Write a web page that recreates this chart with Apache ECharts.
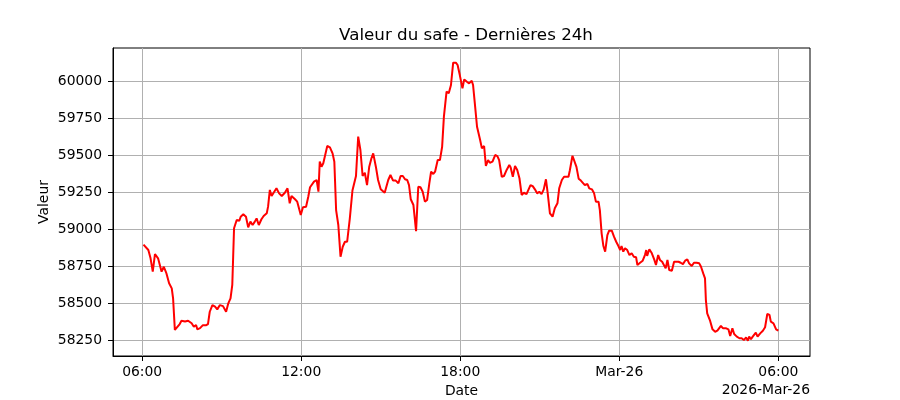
<!DOCTYPE html>
<html>
<head>
<meta charset="utf-8">
<script src="https://cdn.jsdelivr.net/npm/echarts@6/dist/echarts.min.js"></script>
<style>
  html, body { margin: 0; padding: 0; background: #fff; }
  #chart { width: 900px; height: 400px; }
</style>
</head>
<body>
<div id="chart"></div>
<script>
// clock times of the samples, 25 -> 26 March 2026 (day rolls over after 23:58)
var times = [
  "06:03","06:14","06:19","06:24","06:29","06:36","06:44","06:49","06:55","07:01",
  "07:07","07:10","07:14","07:18","07:25","07:29","07:37","07:44","07:52","07:57",
  "08:02","08:05","08:11","08:17","08:24","08:29","08:33","08:39","08:45","08:50",
  "08:56","09:03","09:10","09:15","09:20","09:24","09:26","09:28","09:34","09:40",
  "09:43","09:49","09:55","10:00","10:05","10:10","10:15","10:19","10:24","10:30",
  "10:35","10:42","10:45","10:49","10:53","10:57","11:04","11:10","11:16","11:23",
  "11:29","11:34","11:38","11:46","11:51","11:56","11:59","12:04","12:11","12:16",
  "12:20","12:24","12:29","12:35","12:39","12:42","12:46","12:50","12:54","12:59",
  "13:05","13:11","13:15","13:19","13:24","13:29","13:34","13:39","13:44","13:50",
  "13:56","14:04","14:09","14:14","14:19","14:24","14:29","14:34","14:39","14:43",
  "14:49","14:54","15:00","15:04","15:09","15:13","15:17","15:22","15:28","15:34",
  "15:40","15:45","15:50","15:55","16:00","16:04","16:08","16:14","16:20","16:25",
  "16:30","16:35","16:40","16:45","16:50","16:54","16:59","17:03","17:09","17:14",
  "17:19","17:23","17:29","17:34","17:39","17:44","17:50","17:54","17:59","18:05",
  "18:09","18:15","18:20","18:26","18:29","18:33","18:38","18:45","18:49","18:54",
  "18:58","19:03","19:07","19:13","19:19","19:24","19:28","19:34","19:39","19:45",
  "19:51","19:54","19:59","20:04","20:09","20:14","20:19","20:24","20:30","20:34",
  "20:39","20:44","20:49","20:54","20:59","21:04","21:09","21:14","21:18","21:23",
  "21:29","21:34","21:40","21:44","21:50","21:55","21:59","22:05","22:08","22:14",
  "22:18","22:23","22:28","22:33","22:37","22:42","22:48","22:52","22:58","23:03",
  "23:07","23:13","23:16","23:20","23:24","23:28","23:33","23:37","23:43","23:48",
  "23:53","23:58","00:02","00:05","00:09","00:13","00:18","00:23","00:28","00:33",
  "00:38","00:41","00:47","00:53","00:58","01:01","01:03","01:08","01:13","01:19",
  "01:23","01:28","01:32","01:37","01:41","01:45","01:49","01:53","01:59","02:04",
  "02:08","02:14","02:19","02:24","02:29","02:34","02:38","02:44","02:49","02:55",
  "03:01","03:05","03:10","03:14","03:16","03:19","03:25","03:31","03:37","03:42",
  "03:46","03:50","03:55","04:02","04:07","04:11","04:16","04:20","04:26","04:32",
  "04:37","04:42","04:47","04:51","04:54","04:58","05:02","05:05","05:09","05:13",
  "05:19","05:25","05:30","05:35","05:40","05:43","05:49","05:55","06:00"
];

var values = [
  58895, 58858, 58802, 58712, 58831, 58802, 58712, 58745, 58700, 58633,
  58599, 58532, 58318, 58322, 58358, 58380, 58375, 58380, 58363, 58340,
  58351, 58322, 58330, 58349, 58349, 58358, 58441, 58486, 58475, 58457,
  58486, 58479, 58441, 58498, 58532, 58622, 58813, 59005, 59061, 59056,
  59083, 59099, 59083, 59011, 59050, 59027, 59050, 59072, 59027, 59066,
  59088, 59106, 59151, 59264, 59223, 59236, 59275, 59241, 59223, 59245,
  59275, 59174, 59223, 59201, 59185, 59128, 59094, 59147, 59151, 59218,
  59282, 59275, 59320, 59331, 59252, 59455, 59421, 59444, 59455, 59561,
  59552, 59511, 59455, 59128, 59027, 58813, 58880, 58914, 58914, 59070,
  59260, 59358, 59624, 59534, 59358, 59380, 59297, 59421, 59478, 59511,
  59421, 59331, 59268, 59275, 59245, 59252, 59331, 59365, 59327, 59327,
  59309, 59358, 59358, 59336, 59331, 59297, 59201, 59162, 58986, 59286,
  59282, 59252, 59185, 59196, 59309, 59387, 59372, 59387, 59466, 59466,
  59556, 59759, 59928, 59917, 59973, 60124, 60124, 60108, 60040, 59950,
  60011, 59995, 59984, 60002, 59973, 59849, 59691, 59601, 59545, 59561,
  59426, 59466, 59448, 59455, 59500, 59493, 59466, 59353, 59358, 59399,
  59432, 59417, 59353, 59426, 59399, 59343, 59230, 59245, 59236, 59241,
  59297, 59290, 59268, 59241, 59252, 59236, 59268, 59336, 59241, 59106,
  59083, 59140, 59174, 59275, 59331, 59353, 59349, 59353, 59395, 59495,
  59495, 59420, 59340, 59327, 59336, 59297, 59304, 59275, 59268, 59241,
  59185, 59185, 59128, 58971, 58885, 58847, 58959, 58989, 58989, 58948,
  58914, 58885, 58858, 58885, 58847, 58870, 58858, 58824, 58836, 58813,
  58809, 58757, 58772, 58786, 58824, 58858, 58818, 58863, 58840, 58795,
  58757, 58824, 58791, 58779, 58772, 58734, 58791, 58723, 58718, 58779,
  58768, 58779, 58772, 58763, 58786, 58795, 58768, 58750, 58772, 58772,
  58768, 58745, 58700, 58667, 58520, 58430, 58385, 58322, 58306, 58313,
  58318, 58345, 58329, 58329, 58322, 58277, 58329, 58291, 58273, 58262,
  58262, 58250, 58268, 58245, 58273, 58255, 58273, 58262, 58300, 58273,
  58295, 58313, 58336, 58426, 58419, 58374, 58363, 58322, 58313
];

var yTicks = [58250, 58500, 58750, 59000, 59250, 59500, 59750, 60000];
var xTickLabels = ["06:00", "12:00", "18:00", "Mar-26", "06:00"];
var xTickTimes = [
  new Date(2026, 2, 25, 6, 0).getTime(),
  new Date(2026, 2, 25, 12, 0).getTime(),
  new Date(2026, 2, 25, 18, 0).getTime(),
  new Date(2026, 2, 26, 0, 0).getTime(),
  new Date(2026, 2, 26, 6, 0).getTime()
];
var xMin = new Date(2026, 2, 25, 4, 54, 0).getTime();
var xMax = new Date(2026, 2, 26, 7, 11, 40).getTime();
var yMin = 58142, yMax = 60223;

// build [timestamp, value] pairs
var seriesData = [];
var day = 25, prev = "";
for (var i = 0; i < times.length; i++) {
  if (prev && times[i] < prev) day++;
  prev = times[i];
  var hm = times[i].split(":");
  seriesData.push([new Date(2026, 2, day, +hm[0], +hm[1]).getTime(), values[i]]);
}

var font = "DejaVu Sans";
var chart = echarts.init(document.getElementById("chart"));
var option = {
  animation: false,
  backgroundColor: "#fff",
  title: {
    text: "Valeur du safe - Dernières 24h",
    left: 461, top: 22, textAlign: "center",
    textStyle: { fontFamily: font, fontSize: 16.7, fontWeight: "normal", color: "#000" }
  },
  grid: {
    left: 113, right: 90, top: 48, bottom: 44,
    outerBoundsMode: "none", containLabel: false,
    show: true, borderColor: "#000", borderWidth: 1, backgroundColor: "transparent"
  },
  xAxis: {
    type: "value",
    min: xMin, max: xMax,
    name: "Date", nameLocation: "middle", nameGap: 28,
    nameTextStyle: { fontFamily: font, fontSize: 13.9, color: "#000" },
    axisLine: { lineStyle: { color: "#000", width: 1 } },
    axisTick: { show: true, length: 5, lineStyle: { color: "#000", width: 1 }, customValues: xTickTimes },
    axisLabel: {
      customValues: xTickTimes, margin: 9, fontFamily: font, fontSize: 13.9, color: "#000",
      formatter: function (v) {
        var k = xTickTimes.indexOf(v);
        return k >= 0 ? xTickLabels[k] : "";
      }
    },
    splitLine: { show: true, lineStyle: { color: "#b0b0b0", width: 1 } }
  },
  yAxis: {
    type: "value",
    min: yMin, max: yMax,
    name: "Valeur", nameLocation: "middle", nameGap: 62, nameRotate: 90,
    nameMoveOverlap: false,
    nameTextStyle: { fontFamily: font, fontSize: 13.9, color: "#000" },
    axisLine: { show: true, lineStyle: { color: "#000", width: 1 } },
    axisTick: { show: true, length: 5, lineStyle: { color: "#000", width: 1 }, customValues: yTicks },
    axisLabel: {
      customValues: yTicks, margin: 11, fontFamily: font, fontSize: 13.9, color: "#000",
      formatter: function (v) { return String(v); }
    },
    splitLine: { show: true, lineStyle: { color: "#b0b0b0", width: 1 } }
  },
  graphic: [{
    type: "text", right: 90, top: 383,
    style: { text: "2026-Mar-26", font: "13.9px DejaVu Sans", fill: "#000" }
  }],
  series: [{
    type: "line",
    data: seriesData,
    showSymbol: false,
    lineStyle: { color: "#ff0000", width: 2 },
    itemStyle: { color: "#ff0000" }
  }]
};
chart.setOption(option);
</script>
</body>
</html>
